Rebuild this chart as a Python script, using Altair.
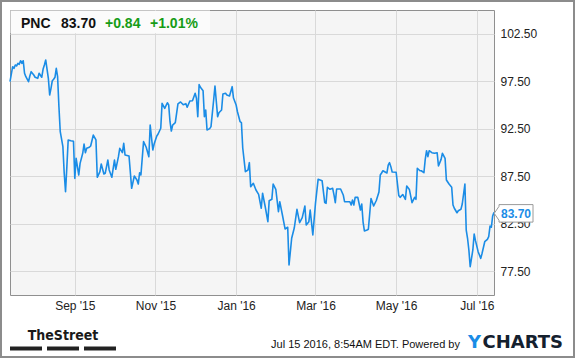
import altair as alt
import pandas as pd

# ---------------- data ----------------
ticker = "PNC"
last_price_text = "83.70"
change_text = "+0.84"
change_pct_text = "+1.01%"
stamp_text = "Jul 15 2016, 8:54AM EDT. Powered by"

dates = [
    "2015-07-14", "2015-07-16", "2015-07-17", "2015-07-18", "2015-07-19", "2015-07-20",
    "2015-07-21", "2015-07-22", "2015-07-23", "2015-07-24", "2015-07-25", "2015-07-26",
    "2015-07-28", "2015-07-29", "2015-07-30", "2015-08-01", "2015-08-02", "2015-08-04",
    "2015-08-05", "2015-08-07", "2015-08-08", "2015-08-09", "2015-08-10", "2015-08-12",
    "2015-08-13", "2015-08-14", "2015-08-15", "2015-08-16", "2015-08-17", "2015-08-18",
    "2015-08-19", "2015-08-20", "2015-08-21", "2015-08-23", "2015-08-24", "2015-08-25",
    "2015-08-26", "2015-08-27", "2015-08-29", "2015-08-31", "2015-09-01", "2015-09-02",
    "2015-09-04", "2015-09-05", "2015-09-07", "2015-09-08", "2015-09-09", "2015-09-10",
    "2015-09-12", "2015-09-13",
    "2015-09-15", "2015-09-17", "2015-09-18", "2015-09-20", "2015-09-21", "2015-09-23",
    "2015-09-24", "2015-09-26", "2015-09-27", "2015-09-29", "2015-10-01", "2015-10-02",
    "2015-10-04", "2015-10-05", "2015-10-07", "2015-10-08", "2015-10-09", "2015-10-12",
    "2015-10-14", "2015-10-16", "2015-10-18", "2015-10-19", "2015-10-20", "2015-10-21",
    "2015-10-23", "2015-10-25", "2015-10-27", "2015-10-28", "2015-10-30", "2015-10-31",
    "2015-11-02", "2015-11-03", "2015-11-05", "2015-11-06", "2015-11-08", "2015-11-10",
    "2015-11-11", "2015-11-12", "2015-11-13",
    "2015-11-14", "2015-11-16", "2015-11-18", "2015-11-20", "2015-11-22", "2015-11-24",
    "2015-11-25", "2015-11-27", "2015-11-29", "2015-12-01", "2015-12-02", "2015-12-03",
    "2015-12-04", "2015-12-05", "2015-12-07", "2015-12-08", "2015-12-09", "2015-12-10",
    "2015-12-12", "2015-12-13", "2015-12-15", "2015-12-16", "2015-12-18", "2015-12-19",
    "2015-12-21", "2015-12-22", "2015-12-24", "2015-12-25", "2015-12-27", "2015-12-29",
    "2015-12-30", "2016-01-01", "2016-01-02", "2016-01-04", "2016-01-05", "2016-01-06",
    "2016-01-08", "2016-01-10", "2016-01-11", "2016-01-12",
    "2016-01-14", "2016-01-16", "2016-01-18", "2016-01-20", "2016-01-21", "2016-01-23",
    "2016-01-25", "2016-01-26", "2016-01-28", "2016-01-29", "2016-01-31", "2016-02-02",
    "2016-02-03", "2016-02-05", "2016-02-07", "2016-02-09", "2016-02-10", "2016-02-12",
    "2016-02-14", "2016-02-16", "2016-02-18", "2016-02-20", "2016-02-22", "2016-02-23",
    "2016-02-25", "2016-02-26", "2016-02-28", "2016-03-01", "2016-03-03", "2016-03-06",
    "2016-03-08", "2016-03-09", "2016-03-10",
    "2016-03-12", "2016-03-14", "2016-03-15", "2016-03-16", "2016-03-17", "2016-03-20",
    "2016-03-22", "2016-03-23", "2016-03-27", "2016-03-28", "2016-03-29", "2016-03-30",
    "2016-03-31", "2016-04-02", "2016-04-04", "2016-04-05", "2016-04-06", "2016-04-07",
    "2016-04-09", "2016-04-10", "2016-04-12", "2016-04-14", "2016-04-16", "2016-04-18",
    "2016-04-19", "2016-04-20", "2016-04-21", "2016-04-24", "2016-04-25", "2016-04-26",
    "2016-04-27", "2016-04-28", "2016-05-01", "2016-05-03", "2016-05-04", "2016-05-06",
    "2016-05-08", "2016-05-09", "2016-05-11",
    "2016-05-13", "2016-05-15", "2016-05-16", "2016-05-17", "2016-05-19", "2016-05-20",
    "2016-05-22", "2016-05-23", "2016-05-24", "2016-05-25", "2016-05-26", "2016-05-28",
    "2016-05-30", "2016-06-01", "2016-06-02", "2016-06-04", "2016-06-05", "2016-06-07",
    "2016-06-08", "2016-06-10", "2016-06-12", "2016-06-13", "2016-06-14", "2016-06-16",
    "2016-06-17", "2016-06-19", "2016-06-20", "2016-06-22", "2016-06-23", "2016-06-24",
    "2016-06-25", "2016-06-26", "2016-06-28", "2016-06-29", "2016-06-30", "2016-07-02",
    "2016-07-04", "2016-07-05", "2016-07-07", "2016-07-09", "2016-07-10", "2016-07-11",
    "2016-07-12", "2016-07-13", "2016-07-14",
]

prices = [
    97.45, 99.03, 98.86, 99.21, 99.11, 99.39,
    99.28, 99.66, 99.39, 99.66, 98.34, 97.98,
    97.45, 98.05, 98.51, 98.16, 97.92, 97.81,
    98.34, 97.92, 98.76, 99.21, 99.74, 97.81,
    96.05, 96.76, 97.56, 97.71, 97.92, 98.86,
    97.98, 94.82, 92.19, 90.61, 87.81, 85.87,
    88.51, 91.32, 91.24, 91.18, 87.28, 89.39,
    87.63, 88.86, 89.92, 90.89, 89.98, 90.44,
    90.55, 90.68,
    91.84, 91.32, 87.39, 87.98, 88.79, 87.74,
    87.81, 89.21, 88.16, 87.39, 89.21, 88.23,
    89.56, 90.44, 89.98, 90.97, 89.74, 89.63,
    86.23, 87.53, 87.11, 86.68, 87.87, 87.63,
    91.14, 90.55, 89.56, 92.89, 90.26, 90.89,
    91.74, 91.95, 92.55, 95.18, 94.65, 95.24,
    95.00, 93.24, 92.26,
    92.89, 93.14, 95.11, 95.32, 95.03, 95.14,
    94.76, 95.42, 95.45, 96.23, 95.71, 93.77,
    97.14, 96.86, 96.51, 93.77, 94.47, 92.37,
    92.51, 92.72, 95.53, 97.00, 93.77, 94.19,
    94.47, 96.16, 96.23, 96.05, 95.95, 96.93,
    95.73, 95.00, 94.29, 93.24, 93.14, 90.47,
    87.98, 88.16, 88.93, 86.40,
    86.76, 86.05, 85.60, 84.13, 85.71, 84.29,
    82.72, 84.93, 85.07, 86.68, 86.13, 83.77,
    84.82, 83.42, 81.95, 82.13, 78.16, 80.97,
    82.08, 84.02, 82.61, 83.14, 84.37, 82.37,
    82.72, 83.95, 81.32, 84.65, 87.18, 87.03,
    84.72, 84.65, 86.34,
    86.13, 86.23, 85.53, 84.72, 86.16, 86.16,
    85.53, 84.82, 84.82, 84.47, 85.00, 84.47,
    85.28, 85.28, 83.95, 84.58, 82.68, 81.74,
    81.84, 81.92, 85.16, 84.37, 84.95, 85.84,
    87.63, 87.84, 88.08, 87.84, 88.68, 88.93,
    88.51, 87.95, 87.92, 85.47, 85.28, 85.58,
    85.07, 86.47, 86.11,
    84.72, 85.28, 85.07, 88.34, 88.08, 88.08,
    87.87, 89.28, 90.19, 89.56, 90.19, 89.98,
    89.92, 89.98, 88.58, 89.28, 89.92, 89.39,
    87.11, 86.68, 86.34, 84.47, 84.13, 83.66,
    83.87, 84.02, 84.58, 86.68, 81.84, 80.97,
    79.74, 77.98, 79.74, 81.42, 80.72, 79.56,
    78.86, 79.39, 80.61, 80.86, 81.14, 82.26,
    82.13, 83.32, 83.70,
]

y_ticks = [77.5, 82.5, 87.5, 92.5, 97.5, 102.5]
x_tick_months = [(2015, 9), (2015, 11), (2016, 1), (2016, 3), (2016, 5), (2016, 7)]
x_start = (2015, 7, 14)
x_end = (2016, 7, 14)
y_domain = [75, 105]

# ---------------- styling ----------------
FONT = "Liberation Sans, Arial, Helvetica, sans-serif"
LINE_BLUE = "#1a8ce6"
GREEN = "#169c16"
GRID = "#d9d9d9"

df = pd.DataFrame({"date": dates, "price": prices})
last = df.iloc[[-1]].reset_index(drop=True)
one = pd.DataFrame({"k": [0]})

x_scale = alt.Scale(
    type="utc",
    domain=[
        alt.DateTime(year=x_start[0], month=x_start[1], date=x_start[2], utc=True),
        alt.DateTime(year=x_end[0], month=x_end[1], date=x_end[2], utc=True),
    ],
)
x_axis = alt.Axis(
    values=[alt.DateTime(year=y, month=m, date=1, utc=True) for y, m in x_tick_months],
    format="%b '%y",
    title=None,
    grid=True,
    gridColor=GRID,
    ticks=False,
    tickSize=0,
    domain=False,
    labelPadding=5,
    labelFontSize=12,
    labelColor="#222222",
    labelFont=FONT,
)
y_scale = alt.Scale(domain=y_domain, nice=False, zero=False)
y_axis = alt.Axis(
    orient="right",
    values=y_ticks,
    format=".2f",
    title=None,
    grid=True,
    gridColor=GRID,
    ticks=False,
    tickSize=0,
    domain=False,
    labelPadding=6,
    labelFontSize=12,
    labelColor="#222222",
    labelFont=FONT,
)

X = alt.X("date:T", scale=x_scale, axis=x_axis)
Y = alt.Y("price:Q", scale=y_scale, axis=y_axis)

# outer frame of the whole image
outer = alt.Chart(one).mark_rect(fillOpacity=0, stroke="#8c8c8c", strokeWidth=2).encode(
    x=alt.value(-9), x2=alt.value(564), y=alt.value(-9), y2=alt.value(347)
)

# header panel
header_box = alt.Chart(one).mark_rect(fill="#fbfbfb", stroke=None).encode(
    x=alt.value(0.5), x2=alt.value(200), y=alt.value(0.5), y2=alt.value(23.3)
)

line = alt.Chart(df).mark_line(color=LINE_BLUE, strokeWidth=1.6, strokeJoin="round").encode(
    x=X, y=Y
)

CALLOUT_PATH = "M-1.28,0 L-1,-0.41 L-1,-0.515 L1,-0.515 L1,0.515 L-1,0.515 L-1,0.41 Z"
callout_box = alt.Chart(last).mark_point(
    shape=CALLOUT_PATH, size=1156, filled=True, fill="white", stroke="#9a9a9a",
    strokeWidth=1, opacity=1, xOffset=22, yOffset=1,
).encode(x=X, y=Y)

callout_text = alt.Chart(last).mark_text(
    font=FONT, fontSize=12, fontWeight="bold", color=LINE_BLUE,
    align="center", baseline="middle", dx=22, dy=1.5,
).encode(x=X, y=Y, text=alt.Text("price:Q", format=".2f"))


def label(text, x, y, size, color, weight="normal", align="left", font=FONT):
    return alt.Chart(one).mark_text(
        font=font, fontSize=size, fontWeight=weight, color=color,
        align=align, baseline="alphabetic",
    ).encode(x=alt.value(x), y=alt.value(y), text=alt.value(text))


def bar(x0, x1, y0, y1, color):
    return alt.Chart(one).mark_rect(fill=color).encode(
        x=alt.value(x0), x2=alt.value(x1), y=alt.value(y0), y2=alt.value(y1)
    )


head_1 = label(ticker, 11, 17.5, 14, "#111111", "bold")
head_2 = label(last_price_text, 51, 17.5, 14, "#111111", "bold")
head_3 = label(change_text, 95, 17.5, 14, GREEN, "bold")
head_4 = label(change_pct_text, 140, 17.5, 14, GREEN, "bold")

street = label("TheStreet", 53, 330, 14, "#1a1a1a", "bold", "center",
               font="Liberation Sans Narrow, DejaVu Sans Condensed, Arial Narrow, sans-serif")
bar1 = bar(0, 32, 336.5, 340.5, "#222222")
bar2 = bar(37, 69, 336.5, 340.5, "#222222")
bar3 = bar(74, 106, 336.5, 340.5, "#222222")

stamp = label(stamp_text, 450, 338, 11, "#111111", "normal", "right")
logo_y = label("Y", 471, 338, 18, LINE_BLUE, "bold", "right", font="DejaVu Sans, sans-serif")
logo_rest = label("CHARTS", 553, 338, 18, "#14202e", "bold", "right", font="DejaVu Sans, sans-serif")

chart = alt.layer(
    outer, header_box, line, callout_box, callout_text,
    head_1, head_2, head_3, head_4,
    street, bar1, bar2, bar3, stamp, logo_y, logo_rest,
).properties(
    width=484,
    height=285,
    padding={"left": 10, "top": 10, "right": 81, "bottom": 63},
    autosize=alt.AutoSizeParams(type="none"),
    background="white",
).configure_view(
    fill="#f5f5f5", stroke="#8f8f8f", strokeWidth=1
)

chart.save("out.html", embed_options={"renderer": "svg", "actions": False})
